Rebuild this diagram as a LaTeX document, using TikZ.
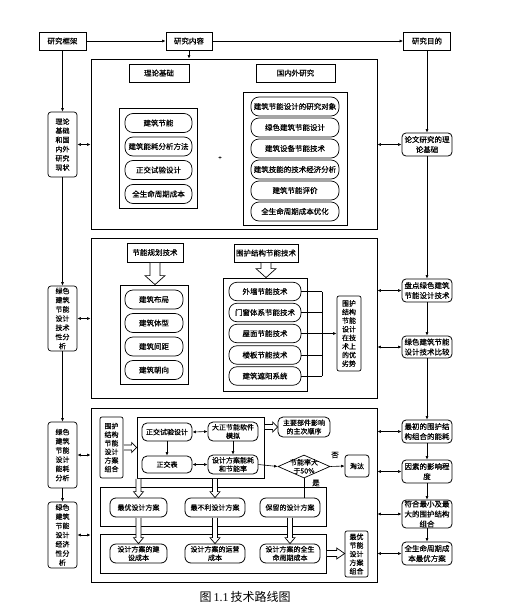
\documentclass[tikz,border=0pt]{standalone}
\usepackage{fontspec}
\setmainfont{Noto Sans CJK SC}[FakeBold=0.4]
\newfontfamily\capcjk{Noto Sans CJK SC}
\newfontfamily\capserif{Liberation Serif}
\usetikzlibrary{arrows.meta,shapes.geometric,shadows,calc}
\newcommand\myfs[2]{\fontsize{#1}{#2}\selectfont}
% hollow block arrows: #1 start, #2 end, #3 half shaft, #4 half head, #5 head length
\newcommand\hollowdown[5]{\draw[hollow] let \p1=#1, \p2=#2 in
  ({\x1-#3},{\y1-0.5pt}) -- ({\x1-#3},{\y2+#5}) -- ({\x1-#4},{\y2+#5}) -- (\x1,\y2) --
  ({\x1+#4},{\y2+#5}) -- ({\x1+#3},{\y2+#5}) -- ({\x1+#3},{\y1-0.5pt});}
\newcommand\hollowright[5]{\draw[hollow] let \p1=#1, \p2=#2 in
  ({\x1+0.5pt},{\y1+#3}) -- ({\x2-#5},{\y1+#3}) -- ({\x2-#5},{\y1+#4}) -- (\x2,\y1) --
  ({\x2-#5},{\y1-#4}) -- ({\x2-#5},{\y1-#3}) -- ({\x1+0.5pt},{\y1-#3});}
\begin{document}
\begin{tikzpicture}[x=1pt,y=-1pt,
  >={Latex[length=3.5pt,width=3pt]},
  every node/.style={inner sep=0pt},
  sz/.style 2 args={minimum width=#1,minimum height=#2},
  shd/.style={drop shadow={shadow xshift=1.2pt,shadow yshift=-1.2pt,fill=black!55,opacity=1}},
  sect/.style={draw,line width=0.8pt,fill=white,shd},
  ttl/.style={draw,line width=0.9pt,fill=white,shd,font=\myfs{7.5}{9.5}},
  inbox/.style={draw,line width=0.8pt,fill=white,shd},
  pill/.style={draw,line width=0.7pt,fill=white,rounded corners=8pt,align=center,font=\myfs{7.5}{9.5}},
  col/.style={draw,line width=0.7pt,fill=white,rounded corners=3pt,align=center,font=\myfs{7}{9.2}},
  rbox/.style={draw,line width=0.8pt,fill=white,rounded corners=4pt,align=center,font=\myfs{7.5}{10}},
  sbox/.style={draw,line width=0.8pt,fill=white,rounded corners=5pt,align=center,font=\myfs{7}{8.5}},
  vbox/.style={draw,line width=0.7pt,fill=white,rounded corners=2pt,align=center,font=\myfs{7}{8.6}},
  plain/.style={font=\myfs{7.5}{9}},
  conn/.style={line width=0.6pt,->},
  dconn/.style={line width=0.6pt,<->},
  line/.style={line width=0.6pt},
  hollow/.style={draw,line width=0.7pt,fill=white},
]
\useasboundingbox[fill=white] (0,0) rectangle (510,616);

% ---------- top row ----------
\node[draw,line width=0.8pt,sz={47}{18},font=\myfs{7.5}{9}] (kj) at (62.5,41) {研究框架};
\node[draw,line width=0.8pt,sz={46}{18},font=\myfs{7.5}{9}] (nr) at (189,41) {研究内容};
\node[draw,line width=0.8pt,sz={47}{18},font=\myfs{7.5}{9}] (md) at (427,41) {研究目的};

% ---------- left column ----------
\node[col,sz={29}{65}] (c1) at (62.5,144.5) {理论\\基础\\和国\\内外\\研究\\现状};
\node[col,sz={29}{65}] (c2) at (62.5,318.5) {绿色\\建筑\\节能\\设计\\技术\\性分\\析};
\node[col,sz={29}{66}] (c3) at (62.5,455) {绿色\\建筑\\节能\\设计\\能耗\\分析};
\node[col,sz={29}{66}] (c4) at (62.5,535) {绿色\\建筑\\节能\\设计\\经济\\性分\\析};

% ---------- right column ----------
\node[rbox,sz={50}{23}] (d1) at (427,144.5) {论文研究的理\\论基础};
\node[rbox,sz={50}{23}] (d2) at (427,290.5) {盘点绿色建筑\\节能设计技术};
\node[rbox,sz={50}{22}] (d3) at (427,347) {绿色建筑节能\\设计技术比较};
\node[rbox,sz={50}{23}] (d4) at (427,431.5) {最初的围护结\\构组合的能耗};
\node[rbox,sz={50}{23}] (d5) at (427,471.5) {因素的影响程\\度};
\node[rbox,sz={50}{28}] (d6) at (427,514) {符合最小及最\\大的围护结构\\组合};
\node[rbox,sz={50}{23}] (d7) at (427,553.5) {全生命周期成\\本最优方案};

% ---------- section 1 ----------
\node[sect,sz={286}{170}] (S1) at (234,144) {};
\node[ttl,sz={60}{18}] (t1) at (159,73) {理论基础};
\node[ttl,sz={79}{18}] (t2) at (295.5,73) {国内外研究};
\node[inbox,sz={78}{100}] (L1) at (158,158) {};
\node[pill,sz={67}{19}] (a1) at (158.5,123) {建筑节能};
\node[pill,sz={67}{19}] (a2) at (158.5,146.5) {建筑能耗分析方法};
\node[pill,sz={67}{19}] (a3) at (158.5,170) {正交试验设计};
\node[pill,sz={67}{19}] (a4) at (158.5,194) {全生命周期成本};
\node[font=\myfs{6}{7}] (plus) at (220,158) {+};
\node[inbox,sz={104}{133}] (R1) at (295,158.5) {};
\node[pill,sz={88}{19}] (b1) at (295,106.5) {建筑节能设计的研究对象};
\node[pill,sz={88}{19}] (b2) at (295,127.5) {绿色建筑节能设计};
\node[pill,sz={88}{19}] (b3) at (295,148.5) {建筑设备节能技术};
\node[pill,sz={88}{19}] (b4) at (295,169.5) {建筑技能的技术经济分析};
\node[pill,sz={88}{19}] (b5) at (295,190.5) {建筑节能评价};
\node[pill,sz={88}{19}] (b6) at (295,211.5) {全生命周期成本优化};

% ---------- section 2 ----------
\node[sect,sz={286}{160}] (S2) at (234,318) {};
\node[ttl,sz={56}{19}] (t3) at (155,252.5) {节能规划技术};
\node[ttl,sz={64}{18}] (t4) at (266,253) {围护结构节能技术};
\node[inbox,sz={68}{99}] (L2) at (154,334.5) {};
\node[pill,sz={58}{19}] (e1) at (154,299.5) {建筑布局};
\node[pill,sz={58}{19}] (e2) at (154,323) {建筑体型};
\node[pill,sz={58}{19}] (e3) at (154,346.5) {建筑间距};
\node[pill,sz={58}{19}] (e4) at (154,370) {建筑朝向};
\node[inbox,sz={84}{113}] (R2) at (265,334.5) {};
\node[pill,sz={72}{18.5}] (f1) at (265,291.5) {外墙节能技术};
\node[pill,sz={72}{18.5}] (f2) at (265,312.5) {门窗体系节能技术};
\node[pill,sz={72}{18.5}] (f3) at (265,333.5) {屋面节能技术};
\node[pill,sz={72}{18.5}] (f4) at (265,355) {楼板节能技术};
\node[pill,sz={72}{18.5}] (f5) at (265,376) {建筑遮阳系统};
\node[vbox,sz={24}{75}] (g) at (349,333.5) {围护\\结构\\节能\\设计\\在技\\术上\\的优\\劣势};
\coordinate (bar) at (322,333.5);

% ---------- section 3 ----------
\node[sect,sz={286}{174}] (S3) at (234,495) {};
\node[vbox,sz={23}{61}] (h) at (111.5,447.5) {围护\\结构\\节能\\设计\\方案\\组合};
\node[draw,line width=0.8pt,fill=white,sz={127}{61}] (O) at (200.5,447.5) {};
\node[sbox,sz={50}{18}] (o1) at (167,432) {正交试验设计};
\node[sbox,sz={50}{19}] (o2) at (233,431.5) {大正节能软件\\模拟};
\node[sbox,sz={50}{17}] (o3) at (167,464.5) {正交表};
\node[sbox,sz={50}{19}] (o4) at (233,464.5) {设计方案能耗\\和节能率};
\node[sbox,sz={52}{20}] (m) at (304,427) {主要部件影响\\的主次顺序};
\node[draw,diamond,line width=0.7pt,fill=white,sz={52}{23}] (dia) at (304,466.5) {};
\node[align=center,font=\myfs{7}{8.5}] (diat) at (dia) {节能率大\\于50\%};
\node[sbox,sz={24}{22},rounded corners=3pt] (tt) at (357,466) {淘汰};
\node[plain] (no) at (335,455) {否};
\node[plain] (yes) at (316,483) {是};
\node[inbox,sz={226}{39}] (RA) at (213,506.5) {};
\node[inbox,sz={226}{39}] (RB) at (213,553.5) {};
\node[sbox,sz={57}{19},rounded corners=6pt] (p1) at (138.5,507.5) {最优设计方案};
\node[sbox,sz={60}{19},rounded corners=6pt] (p2) at (215,507.5) {最不利设计方案};
\node[sbox,sz={60}{19},rounded corners=6pt] (p3) at (290,507.5) {保留的设计方案};
\node[sbox,sz={57}{19},rounded corners=6pt] (q1) at (138.5,553.5) {设计方案的建\\设成本};
\node[sbox,sz={60}{19},rounded corners=6pt] (q2) at (215,553.5) {设计方案的运营\\成本};
\node[sbox,sz={60}{19},rounded corners=6pt] (q3) at (290,553.5) {设计方案的全生\\命周期成本};
\node[vbox,sz={23}{46}] (oc) at (356.5,554) {最优\\节能\\设计\\方案\\组合};

% ---------- caption ----------
\node[font=\capcjk\myfs{12}{14}] (cap) at (245,597) {图\,{\capserif 1.1}\,技术路线图};

% ---------- connectors ----------
\draw[conn] (kj.east) -- (nr.west);
\draw[conn] (nr.east) -- (md.west);
\draw[conn] (nr.south) -- (nr.south |- S1.north);
\draw[conn] (kj.south) -- (c1.north);
\draw[conn] (c1.south) -- (c2.north);
\draw[conn] (c2.south) -- (c3.north);
\draw[conn] (c3.south) -- (c4.north);
\draw[conn] (md.south) -- (d1.north);
\draw[conn] (d1.south) -- (d2.north);
\draw[conn] (d2.south) -- (d3.north);
\draw[conn] (d3.south) -- (d4.north);
\draw[conn] (d4.south) -- (d5.north);
\draw[conn] (d5.south) -- (d6.north);
\draw[conn] (d6.south) -- (d7.north);

\draw[dconn] (c1.east) -- (c1.east -| S1.west);
\draw[dconn] (c2.east) -- (c2.east -| S2.west);
\draw[dconn] (c3.east) -- (c3.east -| S3.west);
\draw[dconn] (c4.east) -- (c4.east -| S3.west);
\draw[dconn] (d1.west -| S1.east) -- (d1.west);
\draw[dconn] (d2.west -| S2.east) -- (d2.west);
\draw[dconn] (d3.west -| S2.east) -- (d3.west);
\draw[dconn] (d4.west -| S3.east) -- (d4.west);
\draw[dconn] (d5.west -| S3.east) -- (d5.west);
\draw[dconn] (d6.west -| S3.east) -- (d6.west);
\draw[dconn] (d7.west -| S3.east) -- (d7.west);

% section 2
\hollowdown{(t3.south)}{(L2.north)}{5pt}{10pt}{9pt}
\hollowdown{(t4.south)}{(R2.north)}{5pt}{10pt}{9pt}
\foreach \n in {f1,f2,f3,f4,f5} \draw[line] (\n.east) -- (\n.east -| bar);
\draw[line] (bar |- f1.east) -- (bar |- f5.east);
\draw[line width=0.9pt,->] (bar) -- (g.west);

% section 3
\draw[dconn] (o1.east) -- (o2.west);
\draw[dconn] (o3.east) -- (o4.west);
\draw[conn] (o1.south) -- (o3.north);
\draw[conn] (o2.south) -- (o4.north);
\draw[conn] (o4.east) -- (dia.west);
\draw[conn] (dia.east) -- (tt.west);
\draw[line] (dia.south) -- (dia.south |- p3.north);
\hollowright{(h.east)}{(O.west)}{2.5pt}{5pt}{5pt}
\hollowright{(O.east |- m.west)}{(m.west)}{2.5pt}{5pt}{5pt}
\hollowdown{(p1.north |- O.south)}{(p1.north)}{2.5pt}{5pt}{6pt}
\hollowdown{(p2.north |- O.south)}{(p2.north)}{2.5pt}{5pt}{6pt}
\hollowdown{(p1.south)}{(q1.north)}{2.5pt}{5pt}{6pt}
\hollowdown{(p2.south)}{(q2.north)}{2.5pt}{5pt}{6pt}
\hollowdown{(p3.south)}{(q3.north)}{2.5pt}{5pt}{6pt}
\hollowright{(RB.east)}{(oc.west)}{3pt}{5.5pt}{8pt}
\end{tikzpicture}
\end{document}
